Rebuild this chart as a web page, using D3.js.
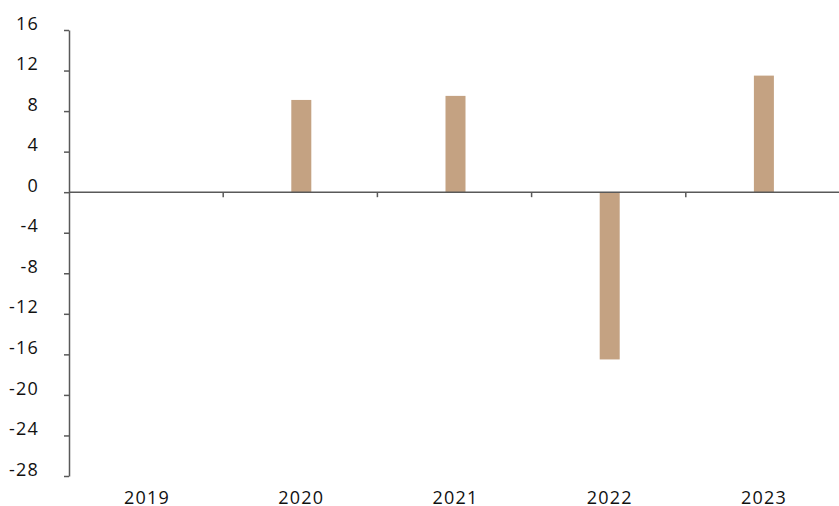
<!DOCTYPE html>
<html>
<head>
<meta charset="utf-8">
<script src="https://cdn.jsdelivr.net/npm/d3@7"></script>
<style>
  body { margin: 0; background: #fff; }
  text { font-family: "Open Sans", "Noto Sans", sans-serif; }
</style>
</head>
<body>
<script>
let years = ["2019", "2020", "2021", "2022", "2023"];
let values = [0, 9.1, 9.5, -16.5, 11.5];
let yTicks = [16, 12, 8, 4, 0, -4, -8, -12, -16, -20, -24, -28];

let width = 839,
    height = 506,
    margin = {top: 30, right: -1, bottom: 30, left: 69},
    innerWidth = width - margin.left - margin.right,
    innerHeight = 476 - margin.top;

let svg = d3.select("body").append("svg")
    .attr("width", width).attr("height", height);
let g = svg.append("g").attr("transform", "translate(" + margin.left + "," + margin.top + ")");

let x = d3.scaleBand().domain(years).range([0, innerWidth]).padding(0);
let y = d3.scaleLinear().domain([-28, 16]).range([innerHeight, 0]);

let axisColor = "#595959";

// y axis, plain hyphen for negatives like the original
let yAxis = g.append("g")
    .call(d3.axisLeft(y).tickValues(yTicks).tickSize(5).tickPadding(25).tickSizeOuter(0)
        .tickFormat(function(d) { return String(d); }));
yAxis.select(".domain").attr("stroke", axisColor).attr("stroke-width", 1.5);
yAxis.selectAll(".tick line").attr("stroke", axisColor).attr("stroke-width", 1.5);
yAxis.selectAll(".tick text")
    .attr("font-size", 18).attr("fill", "#111")
    .attr("letter-spacing", "1.2px")
    .attr("dy", "-0.05em");

// bars
let barW = 20;
g.selectAll(".bar")
    .data(values)
    .enter().append("rect")
    .attr("class", "bar")
    .attr("x", function(d, i) { return x(years[i]) + x.bandwidth() / 2 - barW / 2 + 1; })
    .attr("y", function(d) { return y(Math.max(0, d)); })
    .attr("width", barW)
    .attr("height", function(d) { return Math.abs(y(d) - y(0)); })
    .attr("fill", "#c4a282");

// zero axis with ticks between categories
let zero = g.append("g").attr("transform", "translate(0," + y(0) + ")");
zero.append("line")
    .attr("x1", 0).attr("x2", innerWidth)
    .attr("stroke", axisColor).attr("stroke-width", 1.5);
zero.selectAll(".sep")
    .data(years.slice(1))
    .enter().append("line")
    .attr("x1", function(d) { return x(d); })
    .attr("x2", function(d) { return x(d); })
    .attr("y1", 0).attr("y2", 5)
    .attr("stroke", axisColor).attr("stroke-width", 1.5);

// category labels along bottom
g.selectAll(".cat")
    .data(years)
    .enter().append("text")
    .attr("class", "cat")
    .attr("x", function(d) { return x(d) + x.bandwidth() / 2 + 1; })
    .attr("y", 504 - margin.top)
    .attr("text-anchor", "middle")
    .attr("font-size", 18)
    .attr("letter-spacing", "1.2px")
    .attr("fill", "#111")
    .text(function(d) { return d; });
</script>
</body>
</html>
